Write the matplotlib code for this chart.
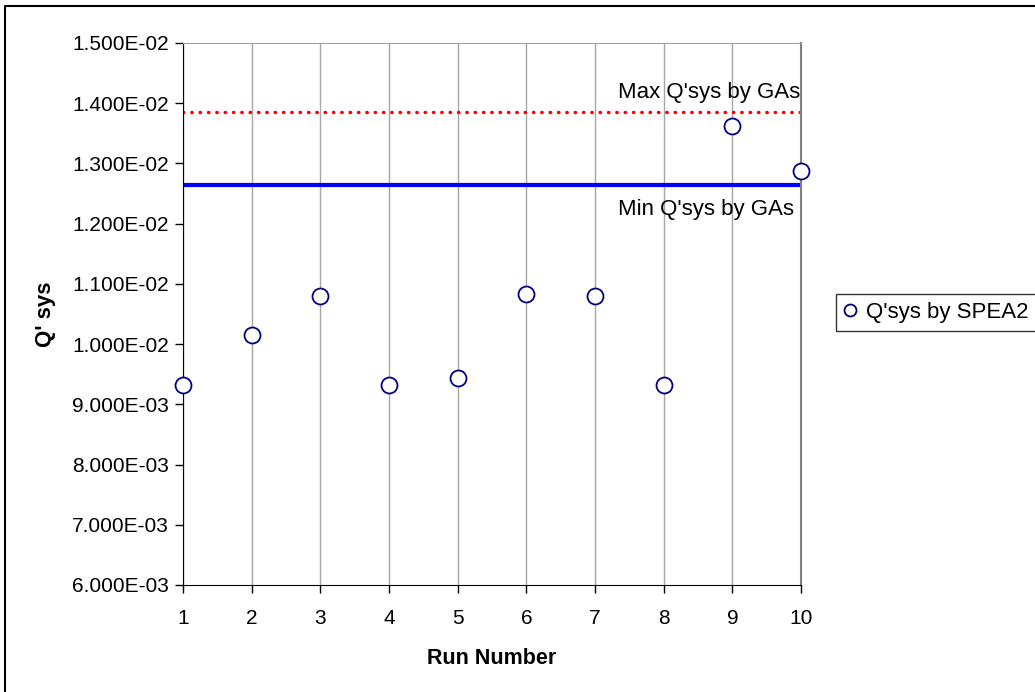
import matplotlib
matplotlib.use("Agg")
import matplotlib.pyplot as plt
from matplotlib.lines import Line2D

plt.rcParams['font.family'] = ['Liberation Sans', 'DejaVu Sans']

runs = [1, 2, 3, 4, 5, 6, 7, 8, 9, 10]
qsys_spea2 = [9.32e-3, 1.015e-2, 1.080e-2, 9.32e-3, 9.44e-3, 1.084e-2, 1.080e-2, 9.32e-3, 1.363e-2, 1.287e-2]
max_qsys_ga = 1.386e-2
min_qsys_ga = 1.264e-2
yticks = [6e-3, 7e-3, 8e-3, 9e-3, 1e-2, 1.1e-2, 1.2e-2, 1.3e-2, 1.4e-2, 1.5e-2]
ytick_labels = ["6.000E-03", "7.000E-03", "8.000E-03", "9.000E-03", "1.000E-02",
                "1.100E-02", "1.200E-02", "1.300E-02", "1.400E-02", "1.500E-02"]

W, H = 1035, 692
fig = plt.figure(figsize=(W / 100, H / 100), dpi=100)
ax = fig.add_axes([183 / W, 1 - 585 / H, (801 - 183) / W, (585 - 43) / H])

ax.set_xlim(1, 10)
ax.set_ylim(6e-3, 1.5e-2)
ax.set_xticks(runs)
ax.set_xticklabels([str(r) for r in runs])
ax.set_yticks(yticks)
ax.set_yticklabels(ytick_labels)
ax.tick_params(axis='both', labelsize=15, direction='out', length=6, width=1, color='black')
ax.tick_params(axis='x', pad=11)
ax.tick_params(axis='y', pad=4)

ax.grid(axis='x', color='#a6a6a6', linewidth=1)
ax.set_axisbelow(True)

ax.spines['left'].set_color('black')
ax.spines['bottom'].set_color('black')
ax.spines['top'].set_color('#a0a0a0')
ax.spines['right'].set_color('#808080')
ax.spines['right'].set_linewidth(1.5)

ax.axhline(max_qsys_ga, color='#ff0000', linestyle=(0, (0.1, 2.3)), linewidth=2.5,
           dash_capstyle='round', zorder=2)
ax.axhline(min_qsys_ga, color='#0000ff', linestyle='-', linewidth=3, zorder=2)

ax.plot(runs, qsys_spea2, linestyle='none', marker='o', markersize=11.5,
        markerfacecolor='white', markeredgecolor='#000080', markeredgewidth=1.3,
        clip_on=False, zorder=5, label="Q'sys by SPEA2")

ax.text(7.335, max_qsys_ga + 0.00031, "Max Q'sys by GAs", ha='left', va='center', fontsize=16)
ax.text(7.335, min_qsys_ga - 0.00040, "Min Q'sys by GAs", ha='left', va='center', fontsize=16)

ax.set_xlabel("Run Number", fontsize=15.5, fontweight='bold', labelpad=15)
ax.set_ylabel("Q' sys", fontsize=16, fontweight='bold', labelpad=12)

leg = ax.legend(loc='center left', bbox_to_anchor=(836 / W, 1 - 312.5 / H),
                bbox_transform=fig.transFigure, fontsize=16, frameon=True,
                fancybox=False, edgecolor='black', handlelength=0.6,
                handletextpad=0.4, borderpad=0.35, markerscale=0.75, borderaxespad=0)
leg.get_frame().set_linewidth(1)

# outer chart frame
fig.add_artist(Line2D([5 / W, 5 / W, 1.0], [0.0, 1 - 6 / H, 1 - 6 / H],
                      transform=fig.transFigure, color='black', linewidth=1.5))

fig.savefig("out.png", dpi=100)
